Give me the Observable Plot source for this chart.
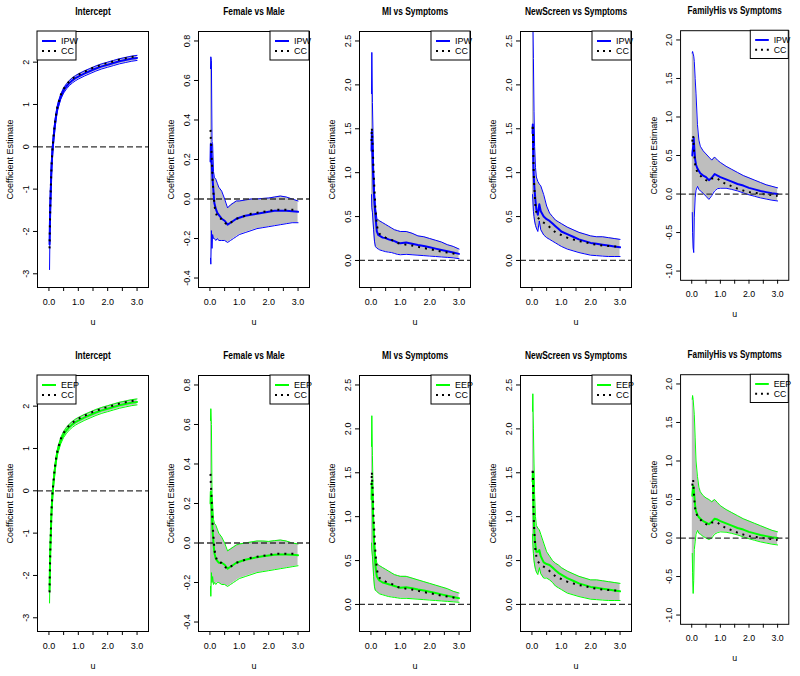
<!DOCTYPE html>
<html><head><meta charset="utf-8">
<script src="https://cdn.jsdelivr.net/npm/d3@7"></script>
<script src="https://cdn.jsdelivr.net/npm/@observablehq/plot@0.6"></script>
<style>
html,body{margin:0;padding:0;background:#fff;width:800px;height:676px;overflow:hidden;}
#root{position:relative;width:800px;height:676px;}
.panel{position:absolute;}
svg text{font-family:"Liberation Sans",Arial,sans-serif;}
</style></head><body><div id="root"></div>
<script>
// time grid (u)
const U = [0.02,0.03,0.05,0.07,0.09,0.12,0.15,0.2,0.25,0.3,0.4,0.5,0.6,0.7,0.8,0.9,1.0,1.2,1.4,1.6,1.8,2.0,2.2,2.4,2.6,2.8,3.0];
const titles = ["Intercept","Female vs Male","MI vs Symptoms","NewScreen vs Symptoms","FamilyHis vs Symptoms"];
const xTicks = [0,0.5,1,1.5,2,2.5,3];

// Intercept
const intIpwEst = [-2.3,-1.9,-1.3,-0.85,-0.45,-0.1,0.15,0.5,0.76,0.95,1.18,1.33,1.43,1.51,1.57,1.62,1.66,1.73,1.79,1.85,1.9,1.94,1.98,2.02,2.05,2.08,2.1];
const intIpwLo  = [-2.9,-2.3,-1.6,-1.1,-0.65,-0.25,0.03,0.4,0.68,0.88,1.12,1.27,1.37,1.45,1.51,1.56,1.6,1.67,1.73,1.79,1.84,1.88,1.92,1.96,1.99,2.02,2.04];
const intIpwHi  = [-1.8,-1.5,-1.0,-0.6,-0.25,0.05,0.27,0.6,0.84,1.02,1.24,1.39,1.49,1.57,1.63,1.68,1.72,1.79,1.85,1.91,1.96,2.0,2.04,2.08,2.11,2.14,2.16];
const intEepEst = [-2.35,-1.95,-1.32,-0.86,-0.46,-0.1,0.15,0.5,0.76,0.95,1.18,1.33,1.43,1.51,1.57,1.62,1.66,1.73,1.79,1.85,1.9,1.94,1.98,2.02,2.05,2.08,2.1];
const intEepLo  = [-2.65,-2.2,-1.55,-1.05,-0.62,-0.22,0.05,0.41,0.68,0.88,1.11,1.26,1.36,1.44,1.5,1.55,1.59,1.66,1.72,1.78,1.83,1.87,1.91,1.95,1.98,2.01,2.03];
const intEepHi  = [-2.05,-1.7,-1.1,-0.68,-0.3,0.02,0.25,0.59,0.84,1.02,1.25,1.4,1.5,1.58,1.64,1.69,1.73,1.8,1.86,1.92,1.97,2.01,2.05,2.09,2.12,2.15,2.17];
const intCc     = [-2.4,-1.95,-1.3,-0.82,-0.42,-0.05,0.2,0.55,0.8,0.98,1.22,1.37,1.47,1.55,1.61,1.66,1.7,1.77,1.84,1.89,1.94,1.98,2.02,2.06,2.09,2.12,2.14];

// Female vs Male
const femIpwEst = [0.19,0.28,0.22,0.15,0.1,0.04,-0.02,-0.05,-0.07,-0.08,-0.1,-0.11,-0.13,-0.12,-0.11,-0.1,-0.095,-0.085,-0.08,-0.075,-0.07,-0.065,-0.06,-0.06,-0.06,-0.062,-0.065];
const femIpwLo  = [-0.3,-0.33,-0.16,-0.25,-0.18,-0.2,-0.2,-0.21,-0.2,-0.21,-0.21,-0.21,-0.22,-0.21,-0.2,-0.19,-0.18,-0.17,-0.16,-0.15,-0.145,-0.14,-0.135,-0.13,-0.125,-0.12,-0.12];
const femIpwHi  = [0.66,0.72,0.7,0.29,0.28,0.14,0.11,0.1,0.08,0.06,0.04,0.0,-0.045,-0.03,-0.02,-0.01,-0.01,-0.005,0.0,0.0,0.003,0.005,0.01,0.015,0.01,0.0,-0.01];
const femEepEst = [0.2,0.26,0.2,0.12,0.06,0.0,-0.05,-0.08,-0.09,-0.1,-0.1,-0.11,-0.13,-0.12,-0.11,-0.1,-0.095,-0.085,-0.078,-0.072,-0.067,-0.063,-0.06,-0.058,-0.058,-0.06,-0.062];
const femEepLo  = [-0.22,-0.27,-0.15,-0.2,-0.17,-0.21,-0.2,-0.21,-0.2,-0.2,-0.21,-0.21,-0.22,-0.21,-0.2,-0.19,-0.18,-0.17,-0.16,-0.15,-0.145,-0.14,-0.135,-0.13,-0.125,-0.12,-0.115];
const femEepHi  = [0.62,0.68,0.6,0.25,0.2,0.12,0.1,0.09,0.07,0.05,0.03,0.0,-0.04,-0.03,-0.02,-0.01,-0.005,0.0,0.005,0.01,0.01,0.008,0.012,0.015,0.01,0.0,-0.005];
const femCc     = [0.35,0.3,0.25,0.18,0.1,0.03,-0.03,-0.07,-0.09,-0.1,-0.1,-0.12,-0.13,-0.12,-0.11,-0.1,-0.095,-0.085,-0.075,-0.07,-0.065,-0.06,-0.055,-0.055,-0.055,-0.055,-0.055];

// MI vs Symptoms
const miIpwEst = [1.25,1.47,1.2,1.0,0.83,0.65,0.52,0.33,0.29,0.28,0.26,0.255,0.24,0.23,0.22,0.205,0.195,0.205,0.19,0.175,0.165,0.15,0.135,0.12,0.105,0.09,0.075];
const miIpwLo  = [0.75,0.6,0.55,0.45,0.35,0.22,0.16,0.14,0.13,0.12,0.11,0.1,0.095,0.09,0.08,0.07,0.065,0.07,0.065,0.06,0.055,0.05,0.045,0.04,0.035,0.03,0.02];
const miIpwHi  = [1.9,2.37,1.8,1.45,1.06,0.8,0.62,0.48,0.46,0.45,0.43,0.41,0.39,0.37,0.35,0.34,0.33,0.33,0.31,0.28,0.27,0.25,0.23,0.21,0.18,0.16,0.13];
const miEepEst = [1.2,1.4,1.2,1.0,0.8,0.6,0.45,0.32,0.29,0.27,0.25,0.24,0.23,0.22,0.21,0.2,0.19,0.195,0.185,0.17,0.16,0.145,0.13,0.115,0.1,0.085,0.07];
const miEepLo  = [0.7,0.62,0.55,0.45,0.32,0.2,0.16,0.15,0.13,0.12,0.11,0.1,0.09,0.085,0.08,0.075,0.07,0.07,0.065,0.06,0.055,0.05,0.045,0.04,0.035,0.03,0.025];
const miEepHi  = [1.8,2.15,1.7,1.35,1.0,0.75,0.58,0.47,0.45,0.44,0.42,0.4,0.38,0.36,0.34,0.33,0.32,0.32,0.3,0.28,0.26,0.24,0.22,0.2,0.18,0.15,0.13];
const miCc     = [1.36,1.51,1.36,1.2,1.0,0.8,0.6,0.4,0.33,0.3,0.28,0.26,0.25,0.235,0.22,0.2,0.19,0.18,0.17,0.155,0.14,0.13,0.115,0.1,0.09,0.08,0.065];

// NewScreen vs Symptoms
const nsIpwEst = [1.45,1.55,1.06,0.9,0.8,0.68,0.58,0.52,0.64,0.56,0.5,0.47,0.45,0.42,0.39,0.36,0.33,0.3,0.27,0.24,0.22,0.2,0.19,0.18,0.17,0.16,0.15];
const nsIpwLo  = [0.75,0.7,0.56,0.5,0.45,0.4,0.37,0.33,0.45,0.35,0.29,0.26,0.24,0.22,0.2,0.18,0.16,0.13,0.11,0.09,0.075,0.06,0.055,0.05,0.045,0.045,0.045];
const nsIpwHi  = [2.75,2.8,2.3,1.7,1.3,1.06,0.95,0.9,0.87,0.85,0.75,0.62,0.54,0.5,0.46,0.44,0.42,0.38,0.35,0.32,0.3,0.28,0.27,0.27,0.26,0.25,0.24];
const nsEepEst = [1.4,1.5,1.1,0.9,0.78,0.67,0.6,0.6,0.62,0.55,0.48,0.46,0.45,0.42,0.39,0.36,0.34,0.3,0.27,0.24,0.22,0.2,0.19,0.18,0.17,0.16,0.15];
const nsEepLo  = [0.8,0.7,0.58,0.5,0.45,0.4,0.37,0.34,0.42,0.35,0.3,0.3,0.28,0.25,0.21,0.19,0.17,0.13,0.11,0.09,0.075,0.06,0.055,0.05,0.045,0.045,0.045];
const nsEepHi  = [2.2,2.4,2.0,1.6,1.25,1.0,0.9,0.87,0.85,0.8,0.7,0.6,0.55,0.5,0.47,0.45,0.42,0.38,0.35,0.32,0.3,0.28,0.28,0.27,0.26,0.25,0.24];
const nsCc     = [1.5,1.55,1.13,0.9,0.78,0.6,0.55,0.49,0.47,0.45,0.43,0.41,0.38,0.35,0.32,0.3,0.29,0.26,0.24,0.22,0.21,0.19,0.18,0.17,0.165,0.16,0.16];

// FamilyHis vs Symptoms
const fhIpwEst = [0.5,0.55,0.62,0.73,0.6,0.45,0.38,0.33,0.3,0.27,0.24,0.22,0.18,0.21,0.26,0.24,0.22,0.19,0.16,0.13,0.11,0.08,0.06,0.04,0.025,0.01,0.0];
const fhIpwLo  = [-0.24,-0.5,-0.7,-0.76,-0.3,-0.05,0.05,0.1,0.06,0.04,0.01,-0.03,-0.07,-0.02,0.04,0.07,0.075,0.075,0.06,0.04,0.015,-0.01,-0.03,-0.05,-0.065,-0.08,-0.09];
const fhIpwHi  = [1.83,1.85,1.82,1.79,1.72,1.5,1.3,0.9,0.7,0.62,0.56,0.52,0.48,0.44,0.48,0.44,0.41,0.36,0.32,0.28,0.24,0.21,0.18,0.15,0.12,0.1,0.08];
const fhEepEst = [0.55,0.6,0.68,0.65,0.55,0.42,0.35,0.3,0.27,0.25,0.22,0.2,0.18,0.21,0.25,0.24,0.22,0.19,0.16,0.13,0.11,0.08,0.06,0.04,0.025,0.01,0.0];
const fhEepLo  = [-0.2,-0.45,-0.72,-0.55,-0.15,-0.05,0.05,0.1,0.06,0.05,0.02,0.0,-0.02,0.0,0.05,0.07,0.08,0.075,0.06,0.04,0.015,-0.01,-0.03,-0.05,-0.065,-0.08,-0.09];
const fhEepHi  = [1.8,1.85,1.8,1.7,1.6,1.3,1.0,0.8,0.66,0.6,0.55,0.52,0.5,0.47,0.5,0.46,0.42,0.37,0.33,0.29,0.25,0.22,0.19,0.16,0.13,0.1,0.08];
const fhCc     = [0.68,0.72,0.76,0.62,0.5,0.38,0.33,0.28,0.26,0.24,0.2,0.18,0.17,0.2,0.21,0.2,0.17,0.13,0.1,0.07,0.045,0.025,0.015,0.005,-0.005,-0.015,-0.025];

// axis limits (R ylim) and tick values
const yLims = [[-3.1,2.5],[-0.4,0.8],[-0.2,2.5],[-0.2,2.5],[-1,2]];
const yTickSets = [[-3,-2,-1,0,1,2],[-0.4,-0.2,0,0.2,0.4,0.6,0.8],[0,0.5,1,1.5,2,2.5],[0,0.5,1,1.5,2,2.5],[-1,-0.5,0,0.5,1,1.5,2]];
const yDigits = [0,1,1,1,1];
const xLim = [-0.25,3.25];

const panelSeries = [
  {ipw:[intIpwEst,intIpwLo,intIpwHi], eep:[intEepEst,intEepLo,intEepHi], cc:intCc},
  {ipw:[femIpwEst,femIpwLo,femIpwHi], eep:[femEepEst,femEepLo,femEepHi], cc:femCc},
  {ipw:[miIpwEst,miIpwLo,miIpwHi], eep:[miEepEst,miEepLo,miEepHi], cc:miCc},
  {ipw:[nsIpwEst,nsIpwLo,nsIpwHi], eep:[nsEepEst,nsEepLo,nsEepHi], cc:nsCc},
  {ipw:[fhIpwEst,fhIpwLo,fhIpwHi], eep:[fhEepEst,fhEepLo,fhEepHi], cc:fhCc}
];
const rowsDef = [{key:"ipw", name:"IPW", color:"#0000FF"}, {key:"eep", name:"EEP", color:"#00FF00"}];

// R style 4% axis expansion
const expand = ([a,b]) => { const d = (b-a)*0.04; return [a-d, b+d]; };

const FONT = '"Liberation Sans", Arial, sans-serif';
const root = document.getElementById("root");

rowsDef.forEach((row, r) => {
  panelSeries.forEach((ps, c) => {
    const [est, lo, hi] = ps[row.key];
    const data = U.map((u, i) => ({u, est: est[i], lo: lo[i], hi: hi[i], cc: ps.cc[i]}));
    const height = r === 0 ? 338 : 332;
    const mt = 31, fh = 256;
    const ml = 37, mr = 12, W = 160;
    const chart = Plot.plot({
      width: W, height,
      marginTop: mt, marginBottom: height - mt - fh, marginLeft: ml, marginRight: mr,
      x: {domain: expand(xLim)},
      y: {domain: expand(yLims[c])},
      style: {background: "transparent", fontFamily: FONT, fontSize: "9px", color: "#000", overflow: "visible"},
      marks: [
        Plot.area(data, {x1: "u", y1: "lo", y2: "hi", fill: "#BEBEBE", clip: true}),
        Plot.line(data, {x: "u", y: "lo", stroke: row.color, strokeWidth: 1, clip: true}),
        Plot.line(data, {x: "u", y: "hi", stroke: row.color, strokeWidth: 1, clip: true}),
        Plot.line(data, {x: "u", y: "est", stroke: row.color, strokeWidth: 2, clip: true}),
        Plot.line(data, {x: "u", y: "cc", stroke: "#000", strokeWidth: 2, strokeDasharray: "2,5", strokeLinecap: "butt", clip: true}),
        Plot.ruleY([0], {stroke: "#333", strokeWidth: 1.3, strokeDasharray: "6,3"}),
        Plot.frame({stroke: "#000", strokeWidth: 1}),
        Plot.axisX({ticks: xTicks, tickFormat: d => (d % 1 === 0 ? d.toFixed(1) : ""), tickSize: 4, tickPadding: 7, label: null, fontSize: 9}),
        Plot.axisY({ticks: yTickSets[c], tickFormat: d => d.toFixed(yDigits[c]), tickRotate: -90, tickSize: 4, tickPadding: 5, label: null, fontSize: 9}),
        Plot.text(["u"], {text: d => d, frameAnchor: "bottom", lineAnchor: "middle", dy: 35, fontSize: 9}),
        Plot.text(["Coefficient Estimate"], {text: d => d, frameAnchor: "left", textAnchor: "middle", lineAnchor: "middle", rotate: -90, dx: -27, fontSize: 9}),
        Plot.text([titles[c]], {text: d => d, frameAnchor: "top", lineAnchor: "middle", dy: -20, fontSize: 10.5, fontWeight: "bold", className: "ptitle"})
      ]
    });
    const svg = d3.select(chart);
    // condensed title lettering as in the reference
    svg.selectAll(".ptitle text").each(function() {
      const t = d3.select(this);
      const tr = t.attr("transform") || "";
      t.attr("transform", tr + " scale(0.8,1)");
    });
    // legend box (R legend) in frame corner
    const lw = 39, lh = 29;
    const x0 = c === 0 ? ml : W - mr - lw;
    const g = svg.append("g").attr("font-family", FONT).attr("font-size", 9).attr("text-anchor", "start");
    g.append("rect").attr("x", x0).attr("y", mt).attr("width", lw).attr("height", lh).attr("fill", "#fff").attr("stroke", "#000");
    g.append("line").attr("x1", x0 + 5).attr("x2", x0 + 19).attr("y1", mt + 10).attr("y2", mt + 10).attr("stroke", row.color).attr("stroke-width", 2);
    g.append("line").attr("x1", x0 + 5).attr("x2", x0 + 19).attr("y1", mt + 20).attr("y2", mt + 20).attr("stroke", "#000").attr("stroke-width", 2).attr("stroke-dasharray", "2,4");
    g.append("text").attr("x", x0 + 24).attr("y", mt + 10).attr("dy", "0.35em").attr("text-anchor", "start").text(row.name);
    g.append("text").attr("x", x0 + 24).attr("y", mt + 20).attr("dy", "0.35em").attr("text-anchor", "start").text("CC");
    const div = document.createElement("div");
    div.className = "panel";
    div.style.left = (c * 161) + "px";
    div.style.top = (r * 344) + "px";
    div.appendChild(chart);
    root.appendChild(div);
  });
});
</script></body></html>
